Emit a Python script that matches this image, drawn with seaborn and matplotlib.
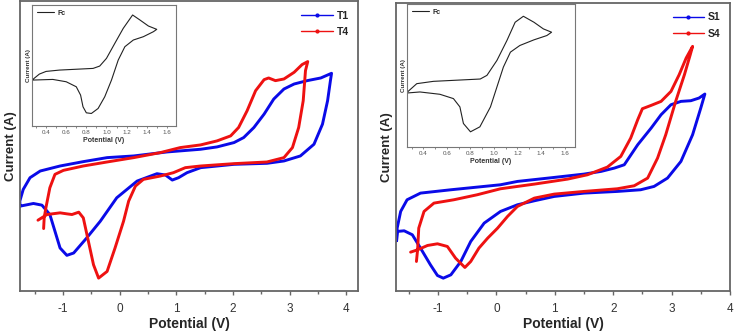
import pandas as pd
import seaborn as sns
import matplotlib
matplotlib.use("Agg")
import matplotlib.pyplot as plt
from matplotlib.lines import Line2D

sns.set_style("white")
plt.rcParams['font.family'] = ['Liberation Sans', 'DejaVu Sans']
plt.rcParams['axes.unicode_minus'] = False

# ---- left panel: T1 / T4 (potential V, current arbitrary units) ----
t1_x = [-1.756, -1.52, -1.37, -1.23, -1.14, -1.05, -0.93, -0.81, -0.58, -0.34, -0.05, 0.31, 0.66,
        0.81, 0.93, 1.04, 1.19, 1.43, 2.02, 2.60, 2.90, 3.19, 3.43, 3.58, 3.67, 3.72, 3.74,
        3.55, 3.31, 3.08, 2.90, 2.72, 2.55, 2.37, 2.19, 2.02, 1.72, 1.43, 0.84, 0.25, -0.22,
        -0.64, -1.05, -1.40, -1.58, -1.70, -1.76, -1.756]
t1_y = [2.55, 2.63, 2.58, 2.30, 1.80, 1.30, 1.08, 1.15, 1.60, 2.10, 2.80, 3.30, 3.52,
        3.48, 3.33, 3.40, 3.55, 3.70, 3.80, 3.83, 3.90, 4.05, 4.40, 5.00, 5.70, 6.30, 6.52,
        6.38, 6.30, 6.20, 6.05, 5.75, 5.30, 4.90, 4.60, 4.45, 4.32, 4.25, 4.17, 4.05, 4.00,
        3.88, 3.75, 3.60, 3.40, 3.05, 2.70, 2.55]

t4_x = [-1.34, -1.33, -1.30, -1.23, -1.14, -0.99, -0.64, -0.22, 0.25, 0.72, 1.07, 1.43, 1.72,
        1.96, 2.10, 2.25, 2.40, 2.55, 2.63, 2.75, 2.90, 3.08, 3.22, 3.32,
        3.28, 3.24, 3.16, 3.05, 2.90, 2.60, 2.02, 1.43, 1.16, 0.95, 0.72, 0.42, 0.28, 0.16,
        0.07, -0.08, -0.22, -0.37, -0.46, -0.55, -0.64, -0.72, -0.84, -0.93, -1.05, -1.28, -1.44]
t4_y = [1.88, 2.20, 2.50, 3.10, 3.50, 3.62, 3.75, 3.87, 4.00, 4.15, 4.30, 4.38, 4.50,
        4.65, 4.90, 5.40, 6.00, 6.33, 6.38, 6.30, 6.35, 6.55, 6.78, 6.87,
        6.60, 5.70, 4.90, 4.30, 4.00, 3.87, 3.82, 3.75, 3.70, 3.55, 3.45, 3.35, 3.15, 2.70,
        2.10, 1.30, 0.60, 0.40, 0.80, 1.50, 2.20, 2.37, 2.30, 2.32, 2.35, 2.30, 2.13]

# ---- right panel: S1 / S4 ----
s1_x = [-1.71, -1.70, -1.58, -1.44, -1.30, -1.13, -1.01, -0.91, -0.78, -0.61, -0.44, -0.21, 0.07,
        0.36, 0.65, 0.99, 1.50, 2.07, 2.47, 2.70, 2.93, 3.16, 3.36, 3.50, 3.57,
        3.47, 3.33, 3.16, 2.99, 2.82, 2.65, 2.42, 2.19, 2.02, 1.79, 1.50, 0.99, 0.36, 0.07,
        -0.78, -1.30, -1.53, -1.64, -1.70, -1.71]
s1_y = [1.52, 1.80, 1.82, 1.70, 1.30, 0.80, 0.48, 0.40, 0.50, 0.90, 1.50, 2.05, 2.40,
        2.60, 2.72, 2.85, 2.95, 3.00, 3.05, 3.15, 3.40, 3.90, 4.70, 5.50, 5.92,
        5.80, 5.72, 5.70, 5.60, 5.30, 4.90, 4.40, 3.80, 3.70, 3.60, 3.52, 3.42, 3.30, 3.20,
        3.05, 2.95, 2.75, 2.40, 1.90, 1.52]

s4_x = [-1.37, -1.35, -1.33, -1.24, -1.07, -0.73, -0.33, 0.07, 0.65, 1.22, 1.56, 1.90, 2.13,
        2.30, 2.42, 2.50, 2.65, 2.82, 2.99, 3.13, 3.25, 3.36,
        3.32, 3.22, 3.07, 2.90, 2.76, 2.59, 2.36, 2.07, 1.50, 0.99, 0.65, 0.36, 0.19, 0.02,
        -0.15, -0.30, -0.44, -0.54, -0.70, -0.84, -1.01, -1.18, -1.35, -1.47]
s4_y = [0.90, 1.25, 1.90, 2.40, 2.65, 2.75, 2.90, 3.08, 3.22, 3.37, 3.50, 3.73, 4.05,
        4.60, 5.15, 5.48, 5.58, 5.70, 6.00, 6.50, 7.00, 7.35,
        7.10, 6.50, 5.70, 4.70, 4.00, 3.40, 3.17, 3.08, 3.00, 2.92, 2.80, 2.55, 2.25, 1.90,
        1.60, 1.30, 0.90, 0.72, 1.00, 1.35, 1.43, 1.38, 1.25, 1.18]

# ---- insets: ferrocene reference ----
fc_left_x = [0.26, 0.333, 0.40, 0.533, 0.733, 0.867, 0.933, 1.0, 1.083, 1.167, 1.26, 1.333, 1.417, 1.50,
             1.467, 1.367, 1.267, 1.183, 1.117, 1.05, 0.983, 0.917, 0.85, 0.80, 0.767, 0.743, 0.70,
             0.60, 0.467, 0.26]
fc_left_y = [1.60, 1.78, 1.86, 1.90, 1.93, 1.95, 2.02, 2.25, 2.70, 3.15, 3.55, 3.40, 3.22, 3.12,
             3.05, 2.90, 2.80, 2.60, 2.20, 1.60, 1.10, 0.75, 0.60, 0.62, 0.80, 1.15, 1.40,
             1.55, 1.62, 1.60]

fc_right_x = [0.264, 0.343, 0.485, 0.77, 0.883, 0.94, 1.025, 1.11, 1.18, 1.25, 1.34, 1.42, 1.49,
              1.45, 1.34, 1.22, 1.14, 1.08, 1.025, 0.97, 0.88, 0.80, 0.74, 0.71, 0.655, 0.54, 0.37, 0.264]
fc_right_y = [1.75, 2.00, 2.07, 2.12, 2.14, 2.25, 2.70, 3.30, 3.85, 4.03, 3.85, 3.65, 3.55,
              3.45, 3.32, 3.15, 2.95, 2.50, 1.90, 1.30, 0.70, 0.55, 0.80, 1.30, 1.55, 1.68, 1.75, 1.72]

BLUE = "#0a0ae8"
RED = "#ee1111"
SPINE = "#666666"

fig = plt.figure(figsize=(7.34, 3.32), dpi=100)
ax1 = fig.add_axes([0.027, 0.122, 0.461, 0.874])
ax2 = fig.add_axes([0.5395, 0.122, 0.455, 0.869])


def draw_main(ax, xa, ya, xb, yb, labels, xlim, ylim):
    da = pd.DataFrame({"x": xa, "y": ya})
    db = pd.DataFrame({"x": xb, "y": yb})
    sns.lineplot(data=da, x="x", y="y", sort=False, estimator=None, color=BLUE, lw=2.1, ax=ax)
    sns.lineplot(data=db, x="x", y="y", sort=False, estimator=None, color=RED, lw=2.1, ax=ax)
    ax.set_xlim(*xlim)
    ax.set_ylim(*ylim)
    ax.set_yticks([])
    ax.set_xticks([-1, 0, 1, 2, 3, 4])
    ax.set_xticks([-1.5, -0.5, 0.5, 1.5, 2.5, 3.5], minor=True)
    ax.tick_params(axis="x", which="major", direction="out", length=3, width=1, colors=SPINE,
                   labelcolor="#333333", labelsize=8.5, bottom=True, pad=5)
    ax.tick_params(axis="x", which="minor", direction="out", length=2, width=1, colors=SPINE, bottom=True)
    for s in ax.spines.values():
        s.set_color(SPINE)
        s.set_linewidth(1.3)
    ax.set_xlabel("Potential (V)", fontsize=10, fontweight="bold", labelpad=2)
    ax.set_ylabel("Current (A)", fontsize=9.5, fontweight="bold", labelpad=2)
    handles = [Line2D([], [], color=BLUE, lw=1, marker="o", ms=2),
               Line2D([], [], color=RED, lw=1, marker="o", ms=2)]
    ax.legend(handles, labels, loc="upper right", frameon=False, prop={"weight": "bold", "size": 7.5},
              handlelength=3.0, handletextpad=0.4, labelspacing=0.6, borderaxespad=0.5)


draw_main(ax1, t1_x, t1_y, t4_x, t4_y, ["T1", "T4"], (-1.76, 4.21), (0, 8.67))
draw_main(ax2, s1_x, s1_y, s4_x, s4_y, ["S1", "S4"], (-1.72, 4.0), (0, 8.65))


def draw_inset(rect, xs, ys, ylim):
    ax = fig.add_axes(rect)
    df = pd.DataFrame({"x": xs, "y": ys})
    sns.lineplot(data=df, x="x", y="y", sort=False, estimator=None, color="#222222", lw=0.8, ax=ax)
    ax.set_xlim(0.26, 1.69)
    ax.set_ylim(*ylim)
    ax.set_yticks([])
    ax.set_xticks([0.4, 0.6, 0.8, 1.0, 1.2, 1.4, 1.6])
    ax.set_xticks([0.3, 0.5, 0.7, 0.9, 1.1, 1.3, 1.5], minor=True)
    ax.tick_params(axis="x", which="both", direction="out", length=1.5, width=0.6, colors="#777777",
                   labelcolor="#555555", labelsize=4.5, bottom=True, pad=1.5)
    for s in ax.spines.values():
        s.set_color("#777777")
        s.set_linewidth(0.8)
    ax.set_xlabel("Potential (V)", fontsize=5, fontweight="bold", labelpad=1, color="#333333")
    ax.set_ylabel("Current (A)", fontsize=4.5, fontweight="bold", labelpad=1, color="#333333")
    ax.legend([Line2D([], [], color="#222222", lw=0.8)], ["Fc"], loc="upper left", frameon=False,
              prop={"weight": "bold", "size": 5}, handlelength=2.5, handletextpad=0.4,
              borderaxespad=0.3)
    return ax


draw_inset([0.0436, 0.620, 0.196, 0.365], fc_left_x, fc_left_y, (0.22, 3.85))
draw_inset([0.5545, 0.557, 0.229, 0.431], fc_right_x, fc_right_y, (0.09, 4.4))

fig.savefig("out.png", dpi=100)
